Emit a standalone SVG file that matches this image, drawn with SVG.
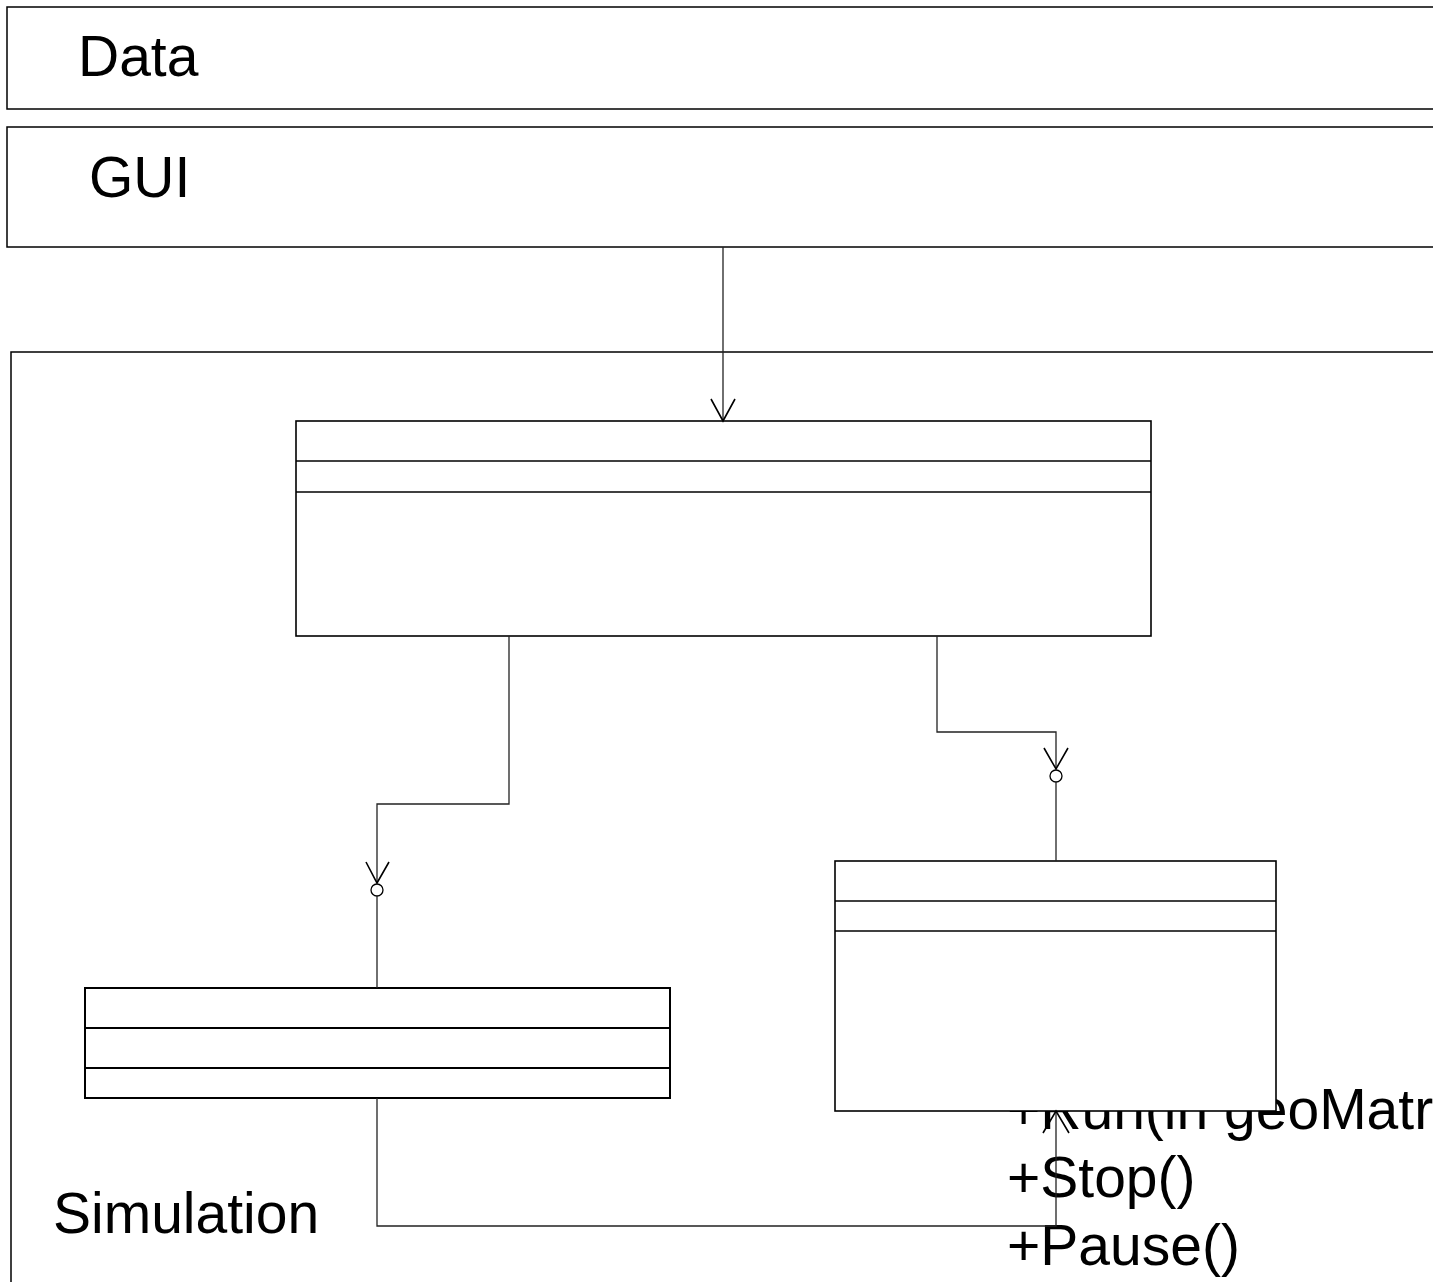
<svg xmlns="http://www.w3.org/2000/svg" width="1433" height="1282" viewBox="0 0 1433 1282">
  <style>
    .pkg { fill: #ffffff; stroke: #000000; stroke-width: 1.5; }
    .cls { fill: #ffffff; stroke: #000000; stroke-width: 1.6; }
    .sep { fill: none; stroke: #000000; stroke-width: 1.6; }
    .wire { fill: none; stroke: #222222; stroke-width: 1.3; }
    .head { fill: none; stroke: #000000; stroke-width: 1.6; }
    .ball { fill: #ffffff; stroke: #000000; stroke-width: 1.3; }
    .label { font-family: "Liberation Sans", Arial, sans-serif; font-size: 57px; fill: #000000; }
  </style>
  <rect width="1433" height="1282" fill="#ffffff"/>

  <!-- package: Data -->
  <g id="pkg-data">
    <rect class="pkg" x="7" y="7" width="1440" height="102"/>
    <text class="label" x="78" y="76">Data</text>
  </g>

  <!-- package: GUI -->
  <g id="pkg-gui">
    <rect class="pkg" x="7" y="127" width="1440" height="120"/>
    <text class="label" x="89" y="197">GUI</text>
  </g>

  <!-- package: Simulation (frame) -->
  <g id="pkg-simulation">
    <rect class="pkg" x="11" y="352" width="1440" height="960"/>
    <text class="label" x="53" y="1233">Simulation</text>
  </g>

  <!-- operation list that spills out under the runner class -->
  <g id="runner-ops">
    <text class="label" x="1007" y="1129">+Run(in geoMatrix)</text>
    <text class="label" x="1007" y="1197">+Stop()</text>
    <text class="label" x="1007" y="1265">+Pause()</text>
  </g>

  <!-- class: controller (top) -->
  <g id="cls-controller">
    <rect class="cls" x="296" y="421" width="855" height="215"/>
    <line class="sep" x1="296" y1="461" x2="1151" y2="461"/>
    <line class="sep" x1="296" y1="492" x2="1151" y2="492"/>
  </g>

  <!-- class: model (bottom left) -->
  <g id="cls-model">
    <rect class="cls" x="85" y="988" width="585" height="110" style="stroke-width:2"/>
    <line class="sep" x1="85" y1="1028" x2="670" y2="1028" style="stroke-width:2"/>
    <line class="sep" x1="85" y1="1068" x2="670" y2="1068" style="stroke-width:2"/>
  </g>

  <!-- class: runner (right) -->
  <g id="cls-runner">
    <rect class="cls" x="835" y="861" width="441" height="250"/>
    <line class="sep" x1="835" y1="901" x2="1276" y2="901"/>
    <line class="sep" x1="835" y1="931" x2="1276" y2="931"/>
  </g>

  <!-- connectors -->
  <g id="connectors">
    <!-- GUI to controller -->
    <polyline class="wire" points="723,247 723,421"/>
    <polyline class="head" points="711,399 723,421 735,399"/>

    <!-- controller to model -->
    <polyline class="wire" points="509,636 509,804 377,804 377,883"/>
    <polyline class="head" points="366,862 377,883 389,862"/>
    <circle class="ball" cx="377" cy="890" r="6"/>
    <line class="wire" x1="377" y1="896" x2="377" y2="988"/>

    <!-- controller to runner -->
    <polyline class="wire" points="937,636 937,732 1056,732 1056,769"/>
    <polyline class="head" points="1044,748 1056,769 1068,748"/>
    <circle class="ball" cx="1056" cy="776" r="6"/>
    <line class="wire" x1="1056" y1="782" x2="1056" y2="861"/>

    <!-- model to runner -->
    <polyline class="wire" points="377,1098 377,1226 1056,1226 1056,1111"/>
    <polyline class="head" points="1043,1133 1056,1111 1069,1133"/>
  </g>
</svg>
